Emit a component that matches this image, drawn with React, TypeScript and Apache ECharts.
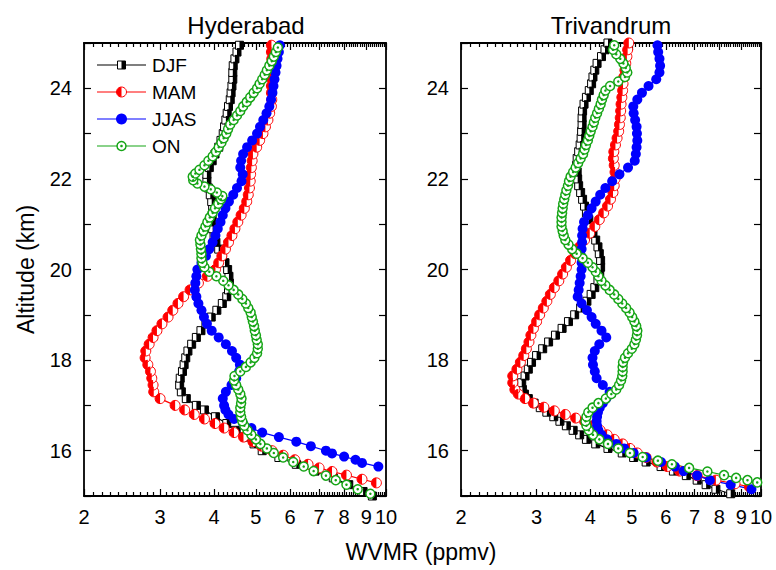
import React, { useEffect, useRef } from "react";
import * as echarts from "echarts";

// ---------- tick labels ----------
const xMajorTicks = [2, 3, 4, 5, 6, 7, 8, 9, 10];
const yTickStep = 1;
const panelTitles = ["Hyderabad", "Trivandrum"];
const seasonNames = ["DJF", "MAM", "JJAS", "ON"];

// ---------- Hyderabad (altitude km, WVMR ppmv) ----------
const hydDJFAlt = [15.0, 15.1, 15.25, 15.4, 15.55, 15.7, 15.85, 16.0, 16.15, 16.3, 16.45, 16.6, 16.75, 16.9, 17.0, 17.15, 17.3, 17.45, 17.6, 17.75, 17.9, 18.05, 18.2, 18.35, 18.5, 18.65, 18.8, 18.95, 19.1, 19.25, 19.4, 19.55, 19.7, 19.85, 20.0, 20.15, 20.3, 20.45, 20.6, 20.75, 20.9, 21.05, 21.2, 21.35, 21.5, 21.65, 21.8, 21.95, 22.1, 22.25, 22.4, 22.55, 22.7, 22.85, 23.0, 23.15, 23.3, 23.45, 23.6, 23.75, 23.9, 24.05, 24.2, 24.35, 24.5, 24.65, 24.8, 24.95];
const hydDJF = [9.3, 8.85, 8.2, 7.55, 6.85, 6.2, 5.65, 5.17, 4.95, 4.74, 4.5, 4.28, 4.03, 3.8, 3.64, 3.45, 3.36, 3.33, 3.34, 3.38, 3.41, 3.44, 3.48, 3.55, 3.64, 3.73, 3.83, 3.94, 4.06, 4.18, 4.28, 4.32, 4.34, 4.33, 4.3, 4.24, 4.18, 4.1, 4.04, 4.0, 3.97, 3.95, 3.96, 3.97, 3.95, 3.92, 3.88, 3.85, 3.85, 3.9, 3.96, 4.02, 4.1, 4.15, 4.2, 4.23, 4.26, 4.29, 4.32, 4.36, 4.38, 4.4, 4.42, 4.42, 4.43, 4.47, 4.52, 4.58];

const hydMAMAlt = [15.29, 15.37, 15.46, 15.54, 15.62, 15.7, 15.8, 15.9, 16.0, 16.1, 16.2, 16.3, 16.4, 16.5, 16.6, 16.7, 16.8, 16.9, 17.0, 17.15, 17.3, 17.45, 17.6, 17.75, 17.9, 18.05, 18.2, 18.35, 18.5, 18.65, 18.8, 18.95, 19.1, 19.25, 19.4, 19.55, 19.7, 19.85, 20.0, 20.15, 20.3, 20.45, 20.6, 20.75, 20.9, 21.05, 21.2, 21.35, 21.5, 21.65, 21.8, 21.95, 22.1, 22.25, 22.4, 22.55, 22.7, 22.85, 23.0, 23.15, 23.3, 23.45, 23.6, 23.75, 23.9, 24.05, 24.2, 24.35, 24.5, 24.65, 24.8, 24.95];
const hydMAM = [9.5, 8.8, 8.1, 7.5, 7.0, 6.6, 6.15, 5.78, 5.45, 5.15, 4.92, 4.68, 4.45, 4.22, 4.02, 3.8, 3.6, 3.42, 3.25, 3.0, 2.9, 2.89, 2.87, 2.85, 2.81, 2.77, 2.78, 2.83, 2.89, 2.95, 3.03, 3.13, 3.21, 3.3, 3.4, 3.52, 3.68, 3.86, 4.03, 4.1, 4.17, 4.25, 4.32, 4.4, 4.47, 4.54, 4.62, 4.7, 4.76, 4.8, 4.83, 4.85, 4.86, 4.88, 4.9, 4.92, 5.02, 5.1, 5.19, 5.26, 5.33, 5.38, 5.43, 5.44, 5.43, 5.43, 5.44, 5.45, 5.45, 5.44, 5.43, 5.43];

const hydJJASAlt = [15.65, 15.73, 15.8, 15.87, 15.94, 16.0, 16.1, 16.2, 16.3, 16.4, 16.5, 16.6, 16.7, 16.8, 16.9, 17.0, 17.15, 17.3, 17.45, 17.6, 17.75, 17.9, 18.05, 18.2, 18.35, 18.5, 18.65, 18.8, 18.95, 19.1, 19.25, 19.4, 19.55, 19.7, 19.85, 20.0, 20.15, 20.3, 20.45, 20.6, 20.75, 20.9, 21.05, 21.2, 21.35, 21.5, 21.65, 21.8, 21.95, 22.1, 22.25, 22.4, 22.55, 22.7, 22.85, 23.0, 23.15, 23.3, 23.45, 23.6, 23.75, 23.9, 24.05, 24.2, 24.35, 24.5, 24.65, 24.8, 24.95];
const hydJJAS = [9.6, 8.8, 8.5, 8.0, 7.5, 7.26, 6.7, 6.2, 5.65, 5.17, 4.88, 4.67, 4.45, 4.32, 4.25, 4.22, 4.19, 4.26, 4.39, 4.5, 4.57, 4.59, 4.5, 4.4, 4.26, 4.1, 3.95, 3.85, 3.79, 3.74, 3.68, 3.64, 3.61, 3.62, 3.64, 3.66, 3.74, 3.83, 3.9, 3.97, 4.03, 4.08, 4.14, 4.19, 4.25, 4.33, 4.43, 4.52, 4.63, 4.66, 4.6, 4.62, 4.67, 4.77, 4.9, 5.03, 5.11, 5.2, 5.29, 5.37, 5.42, 5.46, 5.49, 5.52, 5.55, 5.58, 5.61, 5.65, 5.68];

const hydONAlt = [15.05, 15.15, 15.25, 15.35, 15.45, 15.55, 15.65, 15.75, 15.85, 15.95, 16.05, 16.15, 16.25, 16.35, 16.45, 16.55, 16.65, 16.75, 16.85, 16.95, 17.05, 17.15, 17.25, 17.35, 17.45, 17.55, 17.65, 17.75, 17.85, 17.95, 18.05, 18.15, 18.25, 18.35, 18.45, 18.55, 18.65, 18.75, 18.85, 18.95, 19.05, 19.15, 19.25, 19.35, 19.45, 19.55, 19.65, 19.75, 19.85, 19.95, 20.05, 20.15, 20.25, 20.35, 20.45, 20.55, 20.65, 20.75, 20.85, 20.95, 21.05, 21.15, 21.25, 21.35, 21.45, 21.55, 21.62, 21.7, 21.77, 21.83, 21.9, 21.97, 22.05, 22.12, 22.2, 22.3, 22.4, 22.5, 22.6, 22.7, 22.8, 22.9, 23.0, 23.1, 23.2, 23.3, 23.4, 23.5, 23.6, 23.7, 23.8, 23.9, 24.0, 24.1, 24.2, 24.3, 24.4, 24.5, 24.6, 24.7, 24.8, 24.9];
const hydON = [9.2, 8.6, 8.1, 7.65, 7.26, 6.8, 6.45, 6.1, 5.78, 5.5, 5.3, 5.12, 5.0, 4.88, 4.78, 4.7, 4.65, 4.62, 4.6, 4.6, 4.62, 4.63, 4.6, 4.55, 4.5, 4.45, 4.46, 4.6, 4.74, 4.86, 4.96, 5.03, 5.05, 5.05, 5.02, 5.0, 4.97, 4.95, 4.92, 4.89, 4.86, 4.8, 4.74, 4.65, 4.55, 4.44, 4.32, 4.2, 4.05, 3.9, 3.8, 3.76, 3.74, 3.74, 3.73, 3.72, 3.71, 3.74, 3.78, 3.82, 3.86, 3.91, 3.97, 4.02, 4.09, 4.15, 4.18, 4.06, 3.93, 3.8, 3.66, 3.58, 3.57, 3.62, 3.7, 3.8, 3.88, 3.97, 4.04, 4.1, 4.16, 4.21, 4.27, 4.31, 4.36, 4.44, 4.52, 4.6, 4.67, 4.76, 4.85, 4.94, 5.03, 5.1, 5.17, 5.24, 5.3, 5.37, 5.44, 5.5, 5.56, 5.62];

// ---------- Trivandrum (altitude km, WVMR ppmv) ----------
const triDJFAlt = [15.05, 15.15, 15.25, 15.35, 15.45, 15.55, 15.65, 15.75, 15.85, 15.95, 16.05, 16.15, 16.25, 16.35, 16.45, 16.55, 16.65, 16.75, 16.85, 16.95, 17.05, 17.15, 17.25, 17.35, 17.5, 17.65, 17.8, 17.95, 18.1, 18.25, 18.4, 18.55, 18.7, 18.85, 19.0, 19.15, 19.3, 19.45, 19.6, 19.75, 19.9, 20.05, 20.2, 20.35, 20.5, 20.65, 20.8, 20.95, 21.1, 21.25, 21.4, 21.55, 21.7, 21.85, 22.0, 22.15, 22.3, 22.45, 22.6, 22.75, 22.9, 23.05, 23.2, 23.35, 23.5, 23.65, 23.8, 23.95, 24.1, 24.25, 24.4, 24.55, 24.7, 24.85, 25.0];
const triDJF = [8.5, 7.85, 7.45, 7.1, 6.7, 6.25, 5.85, 5.4, 5.05, 4.75, 4.4, 4.12, 3.92, 3.78, 3.65, 3.52, 3.4, 3.29, 3.17, 3.06, 2.96, 2.87, 2.81, 2.78, 2.77, 2.82, 2.87, 2.92, 3.0, 3.1, 3.2, 3.32, 3.44, 3.56, 3.68, 3.8, 3.93, 4.02, 4.1, 4.17, 4.21, 4.23, 4.23, 4.2, 4.17, 4.12, 4.06, 4.01, 3.97, 3.92, 3.88, 3.84, 3.8, 3.76, 3.74, 3.73, 3.72, 3.73, 3.76, 3.79, 3.81, 3.82, 3.83, 3.83, 3.84, 3.87, 3.92, 3.98, 4.03, 4.06, 4.1, 4.15, 4.25, 4.33, 4.4];

const triMAMAlt = [15.2, 15.27, 15.35, 15.45, 15.55, 15.65, 15.75, 15.85, 15.95, 16.05, 16.15, 16.25, 16.35, 16.45, 16.55, 16.65, 16.72, 16.8, 16.88, 16.96, 17.05, 17.15, 17.25, 17.35, 17.5, 17.65, 17.8, 17.95, 18.1, 18.25, 18.4, 18.55, 18.7, 18.85, 19.0, 19.15, 19.3, 19.45, 19.6, 19.75, 19.9, 20.05, 20.2, 20.35, 20.5, 20.65, 20.8, 20.95, 21.1, 21.25, 21.4, 21.55, 21.7, 21.85, 22.0, 22.15, 22.3, 22.45, 22.6, 22.75, 22.9, 23.05, 23.2, 23.35, 23.5, 23.65, 23.8, 23.95, 24.1, 24.25, 24.4, 24.55, 24.7, 24.85, 25.0];
const triMAM = [9.4, 8.7, 7.85, 7.1, 6.46, 6.05, 5.72, 5.4, 5.15, 4.95, 4.76, 4.55, 4.38, 4.22, 4.05, 3.88, 3.7, 3.5, 3.3, 3.12, 2.95, 2.82, 2.72, 2.67, 2.64, 2.64, 2.7, 2.75, 2.8, 2.84, 2.88, 2.91, 2.95, 3.0, 3.05, 3.11, 3.17, 3.23, 3.3, 3.38, 3.45, 3.52, 3.6, 3.69, 3.78, 3.88, 3.99, 4.1, 4.2, 4.3, 4.39, 4.46, 4.52, 4.55, 4.57, 4.57, 4.55, 4.53, 4.54, 4.58, 4.62, 4.66, 4.68, 4.7, 4.71, 4.72, 4.74, 4.76, 4.77, 4.79, 4.82, 4.84, 4.87, 4.89, 4.92];

const triJJASAlt = [15.15, 15.25, 15.35, 15.45, 15.55, 15.65, 15.75, 15.85, 15.95, 16.05, 16.15, 16.25, 16.35, 16.45, 16.55, 16.65, 16.75, 16.85, 16.95, 17.05, 17.15, 17.3, 17.45, 17.6, 17.75, 17.9, 18.05, 18.2, 18.35, 18.5, 18.65, 18.8, 18.95, 19.1, 19.25, 19.4, 19.55, 19.7, 19.85, 20.0, 20.15, 20.3, 20.45, 20.6, 20.75, 20.9, 21.05, 21.2, 21.35, 21.5, 21.65, 21.8, 21.95, 22.1, 22.25, 22.4, 22.55, 22.7, 22.85, 23.0, 23.15, 23.3, 23.45, 23.6, 23.75, 23.9, 24.05, 24.2, 24.35, 24.5, 24.65, 24.8, 24.95];
const triJJAS = [9.5, 8.5, 7.6, 7.1, 6.6, 6.3, 5.85, 5.4, 5.05, 4.8, 4.6, 4.38, 4.25, 4.18, 4.15, 4.14, 4.15, 4.17, 4.21, 4.28, 4.36, 4.44, 4.28, 4.14, 4.1, 4.06, 4.05, 4.1, 4.2, 4.36, 4.25, 4.12, 4.03, 3.93, 3.82, 3.74, 3.76, 3.78, 3.8, 3.82, 3.82, 3.81, 3.82, 3.83, 3.83, 3.84, 3.87, 3.95, 4.03, 4.12, 4.22, 4.34, 4.5, 4.68, 4.9, 5.08, 5.11, 5.13, 5.15, 5.14, 5.13, 5.09, 5.05, 5.04, 5.15, 5.28, 5.47, 5.7, 5.8, 5.82, 5.8, 5.76, 5.74];

const triONAlt = [15.3, 15.35, 15.4, 15.46, 15.54, 15.62, 15.7, 15.78, 15.86, 15.95, 16.05, 16.15, 16.25, 16.35, 16.45, 16.55, 16.65, 16.75, 16.85, 16.95, 17.05, 17.15, 17.25, 17.35, 17.45, 17.55, 17.65, 17.75, 17.85, 17.95, 18.05, 18.15, 18.25, 18.35, 18.45, 18.55, 18.65, 18.75, 18.85, 18.95, 19.05, 19.15, 19.25, 19.35, 19.45, 19.55, 19.65, 19.75, 19.85, 19.95, 20.05, 20.15, 20.25, 20.35, 20.45, 20.55, 20.65, 20.75, 20.85, 20.95, 21.05, 21.15, 21.25, 21.35, 21.45, 21.55, 21.65, 21.75, 21.85, 21.95, 22.05, 22.15, 22.25, 22.35, 22.45, 22.55, 22.65, 22.75, 22.85, 22.95, 23.05, 23.15, 23.25, 23.35, 23.45, 23.55, 23.65, 23.75, 23.85, 23.95, 24.05, 24.15, 24.25, 24.35, 24.45, 24.55, 24.65, 24.75, 24.85, 24.95];
const triON = [9.8, 9.3, 8.75, 8.2, 7.5, 6.8, 6.2, 5.75, 5.3, 4.95, 4.65, 4.4, 4.2, 4.06, 3.97, 3.92, 3.9, 3.92, 3.96, 4.05, 4.18, 4.35, 4.48, 4.6, 4.67, 4.72, 4.75, 4.76, 4.76, 4.77, 4.82, 4.9, 5.0, 5.07, 5.11, 5.14, 5.15, 5.12, 5.07, 5.01, 4.94, 4.85, 4.75, 4.65, 4.55, 4.44, 4.34, 4.25, 4.18, 4.12, 4.05, 3.95, 3.84, 3.72, 3.63, 3.56, 3.5, 3.47, 3.45, 3.43, 3.43, 3.43, 3.44, 3.45, 3.46, 3.48, 3.5, 3.52, 3.55, 3.57, 3.6, 3.65, 3.7, 3.75, 3.8, 3.85, 3.88, 3.91, 3.95, 3.98, 4.01, 4.05, 4.08, 4.11, 4.15, 4.19, 4.23, 4.26, 4.3, 4.34, 4.45, 4.65, 4.82, 4.88, 4.84, 4.78, 4.7, 4.6, 4.52, 4.55];

const FONT = "Arial, 'Liberation Sans', Helvetica, sans-serif";
const COLORS: Record<string, string> = { DJF: "#000000", MAM: "#ff0000", JJAS: "#0000ff", ON: "#16a516" };

const GRIDS = [
  { left: 84, top: 43, width: 302, height: 453 },
  { left: 461, top: 43, width: 300, height: 453 },
];

function minorTicks(): number[] {
  const out: number[] = [];
  for (let i = 20; i <= 100; i++) if (i % 10 !== 0) out.push(i / 10);
  return out;
}

function pairs(vals: number[], alts: number[]) {
  return alts.map((a, i) => [vals[i], a]);
}

function buildXAxes(gridIndex: number) {
  const base = {
    type: "log",
    logBase: 10,
    gridIndex,
    min: 2,
    max: 10,
    splitLine: { show: false },
    minorTick: { show: false },
    minorSplitLine: { show: false },
  };
  const minor = minorTicks();
  const mk = (position: string, major: boolean, labels: boolean) => ({
    ...base,
    position,
    axisLine: { show: major, onZero: false, lineStyle: { color: "#000", width: 1.8 } },
    axisTick: {
      show: true,
      inside: true,
      length: major ? 7 : 4,
      customValues: major ? xMajorTicks : minor,
      lineStyle: { color: "#000", width: 1.2 },
    },
    axisLabel: labels
      ? {
          show: true,
          customValues: xMajorTicks,
          formatter: (v: number) => String(Math.round(v)),
          color: "#000",
          fontSize: 20,
          fontFamily: FONT,
          margin: 11,
        }
      : { show: false },
  });
  return [mk("bottom", true, true), mk("bottom", false, false), mk("top", true, false), mk("top", false, false)];
}

function buildYAxes(gridIndex: number, withName: boolean) {
  const base = {
    type: "value",
    gridIndex,
    min: 15,
    max: 25,
    interval: yTickStep,
    splitLine: { show: false },
  };
  return [
    {
      ...base,
      position: "left",
      name: withName ? "Altitude (km)" : "",
      nameLocation: "middle",
      nameGap: 47,
      nameRotate: 90,
      nameTextStyle: { color: "#000", fontSize: 23, fontFamily: FONT },
      axisLine: { show: true, onZero: false, lineStyle: { color: "#000", width: 1.8 } },
      axisTick: { show: true, inside: true, length: 7, lineStyle: { color: "#000", width: 1.2 } },
      axisLabel: {
        show: true,
        color: "#000",
        fontSize: 20,
        fontFamily: FONT,
        margin: 12,
        formatter: (v: number) => (Math.round(v) % 2 === 0 ? String(Math.round(v)) : ""),
      },
    },
    {
      ...base,
      position: "right",
      axisLine: { show: true, onZero: false, lineStyle: { color: "#000", width: 1.8 } },
      axisTick: { show: true, inside: true, length: 7, lineStyle: { color: "#000", width: 1.2 } },
      axisLabel: { show: false },
    },
  ];
}

const HALF_CIRCLE_LEFT = "path://M5,0A5,5,0,0,0,5,10Z";

function seasonSeries(season: string, vals: number[], alts: number[], xIdx: number, yIdx: number) {
  const color = COLORS[season];
  const data = pairs(vals, alts);
  const common = {
    type: "line",
    xAxisIndex: xIdx,
    yAxisIndex: yIdx,
    data,
    silent: true,
    clip: true,
    showSymbol: true,
    showAllSymbol: true,
    animation: false,
  };
  const out: any[] = [];
  if (season === "DJF") {
    out.push({
      ...common,
      name: season,
      symbol: "rect",
      symbolSize: 8,
      lineStyle: { color, width: 1.2 },
      itemStyle: { color: "#ffffff", borderColor: color, borderWidth: 1 },
    });
    out.push({
      ...common,
      symbol: "rect",
      symbolSize: [4, 8],
      symbolOffset: [2, 0],
      lineStyle: { width: 0, opacity: 0 },
      itemStyle: { color },
    });
  } else if (season === "MAM") {
    out.push({
      ...common,
      name: season,
      symbol: "circle",
      symbolSize: 10,
      lineStyle: { color, width: 1.2 },
      itemStyle: { color: "#ffffff", borderColor: color, borderWidth: 1 },
    });
    out.push({
      ...common,
      symbol: HALF_CIRCLE_LEFT,
      symbolKeepAspect: false,
      symbolSize: [5, 10],
      symbolOffset: [-2.5, 0],
      lineStyle: { width: 0, opacity: 0 },
      itemStyle: { color },
    });
  } else if (season === "JJAS") {
    out.push({
      ...common,
      name: season,
      symbol: "circle",
      symbolSize: 10,
      lineStyle: { color, width: 1.2 },
      itemStyle: { color, borderColor: color, borderWidth: 0 },
    });
  } else {
    out.push({
      ...common,
      name: season,
      symbol: "circle",
      symbolSize: 9,
      lineStyle: { color, width: 1.2 },
      itemStyle: { color: "#ffffff", borderColor: color, borderWidth: 1.5 },
    });
    out.push({
      ...common,
      symbol: "circle",
      symbolSize: 2.5,
      lineStyle: { width: 0, opacity: 0 },
      itemStyle: { color },
    });
  }
  return out;
}

function legendGraphics() {
  const g: any[] = [];
  const x0 = 97;
  const x1 = 146;
  const xm = 121.5;
  const tx = 152;
  const rows = [65, 92, 119, 146];
  seasonNames.forEach((s, i) => {
    const y = rows[i];
    const c = COLORS[s];
    g.push({ type: "line", shape: { x1: x0, y1: y, x2: x1, y2: y }, style: { stroke: c, lineWidth: 1.2 }, z: 100 });
    if (s === "DJF") {
      g.push({ type: "rect", shape: { x: xm - 4, y: y - 4, width: 8, height: 8 }, style: { fill: "#fff", stroke: c, lineWidth: 1 }, z: 101 });
      g.push({ type: "rect", shape: { x: xm, y: y - 4, width: 4, height: 8 }, style: { fill: c }, z: 102 });
    } else if (s === "MAM") {
      g.push({ type: "circle", shape: { cx: xm, cy: y, r: 5 }, style: { fill: "#fff", stroke: c, lineWidth: 1 }, z: 101 });
      g.push({ type: "sector", shape: { cx: xm, cy: y, r: 5, r0: 0, startAngle: Math.PI / 2, endAngle: (3 * Math.PI) / 2, clockwise: true }, style: { fill: c }, z: 102 });
    } else if (s === "JJAS") {
      g.push({ type: "circle", shape: { cx: xm, cy: y, r: 5.5 }, style: { fill: c }, z: 101 });
    } else {
      g.push({ type: "circle", shape: { cx: xm, cy: y, r: 4.5 }, style: { fill: "#fff", stroke: c, lineWidth: 1.5 }, z: 101 });
      g.push({ type: "circle", shape: { cx: xm, cy: y, r: 1.3 }, style: { fill: c }, z: 102 });
    }
    g.push({
      type: "text",
      x: tx,
      y,
      style: { text: s, fill: "#000", font: `19px ${FONT}`, textAlign: "left", textVerticalAlign: "middle" },
      z: 103,
    });
  });
  return g;
}

export default function App() {
  const ref = useRef<HTMLDivElement>(null);
  useEffect(() => {
    if (!ref.current) return;
    const chart = echarts.init(ref.current, null, { renderer: "svg" });
    const xAxis = [...buildXAxes(0), ...buildXAxes(1)];
    const yAxis = [...buildYAxes(0, true), ...buildYAxes(1, false)];
    const panels = [
      { djf: [hydDJF, hydDJFAlt], mam: [hydMAM, hydMAMAlt], jjas: [hydJJAS, hydJJASAlt], on: [hydON, hydONAlt] },
      { djf: [triDJF, triDJFAlt], mam: [triMAM, triMAMAlt], jjas: [triJJAS, triJJASAlt], on: [triON, triONAlt] },
    ];
    const series: any[] = [];
    panels.forEach((p, gi) => {
      const xi = gi * 4;
      const yi = gi * 2;
      series.push(...seasonSeries("DJF", p.djf[0], p.djf[1], xi, yi));
      series.push(...seasonSeries("MAM", p.mam[0], p.mam[1], xi, yi));
      series.push(...seasonSeries("JJAS", p.jjas[0], p.jjas[1], xi, yi));
      series.push(...seasonSeries("ON", p.on[0], p.on[1], xi, yi));
    });
    const titleGraphics = panelTitles.map((t, i) => ({
      type: "text",
      x: GRIDS[i].left + GRIDS[i].width / 2 + (i === 0 ? 11 : 0),
      y: 25,
      style: { text: t, fill: "#000", font: `24px ${FONT}`, textAlign: "center", textVerticalAlign: "middle" },
    }));
    chart.setOption({
      animation: false,
      backgroundColor: "#ffffff",
      grid: GRIDS.map((g) => ({ ...g, containLabel: false })),
      xAxis,
      yAxis,
      series,
      graphic: [
        ...titleGraphics,
        {
          type: "text",
          x: 421,
          y: 552,
          style: { text: "WVMR (ppmv)", fill: "#000", font: `23px ${FONT}`, textAlign: "center", textVerticalAlign: "middle" },
        },
        ...legendGraphics(),
      ],
    });
    return () => chart.dispose();
  }, []);
  return <div ref={ref} style={{ position: "fixed", left: 0, top: 0, width: 776, height: 570 }} />;
}
